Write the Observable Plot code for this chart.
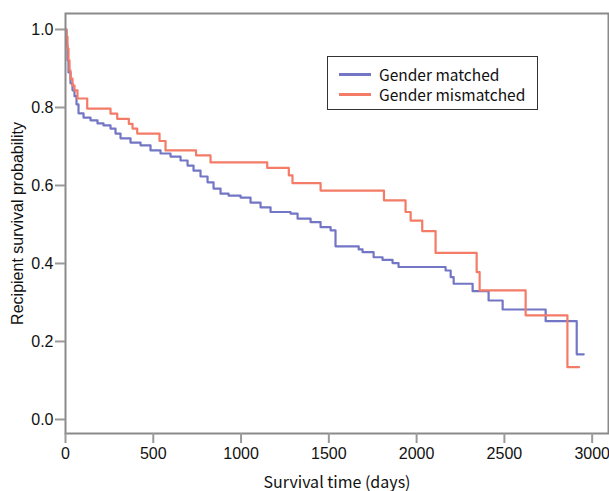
<!DOCTYPE html>
<html>
<head>
<meta charset="utf-8">
<script src="https://cdn.jsdelivr.net/npm/d3@7"></script>
<script src="https://cdn.jsdelivr.net/npm/@observablehq/plot@0.6"></script>
<style>
  html, body { margin: 0; padding: 0; background: #fff; }
  #wrap { position: relative; width: 609px; height: 491px; }
  #wrap svg { font-family: "Liberation Sans", Arial, sans-serif; }
  g[aria-label="x-axis label"] text { font-family: "Noto Sans CJK KR", "Noto Sans", sans-serif; }
  #legend {
    position: absolute; left: 327px; top: 56px; width: 211px; height: 54px;
    border: 1px solid #333; box-sizing: border-box; background: #fff;
    font-family: "Noto Sans CJK KR", "Noto Sans", sans-serif; font-size: 15.5px; color: #111;
  }
  #legend .row { position: absolute; left: 11px; height: 18px; line-height: 18px; display: flex; align-items: center; white-space: nowrap; }
  #legend .sw { width: 32px; height: 0; border-top: 3px solid; margin-right: 8px; }
</style>
</head>
<body>
<div id="wrap"></div>
<script>
// Kaplan-Meier step points
const seriesNames = ["Gender matched", "Gender mismatched"];
const seriesColors = ["#7276c4", "#f47b66"];

const matchedDays = [0, 5.7, 11.4, 17.1, 28.5, 39.9, 51.3, 62.7, 74.1, 102.6, 142.5, 182.3, 216.5, 256.4, 284.9, 313.4, 370.4, 427.4, 484.3, 541.3, 598.3, 655.3, 695.2, 729.3, 769.2, 809.1, 843.3, 883.2, 928.8, 997.2, 1054, 1111, 1168, 1282, 1322, 1396, 1453, 1510, 1538, 1670, 1692, 1755, 1806, 1863, 1897, 2165, 2194, 2211, 2319, 2410, 2490, 2735, 2912, 2952];
const matchedSurv = [1.000, 0.959, 0.921, 0.890, 0.862, 0.844, 0.829, 0.808, 0.785, 0.774, 0.767, 0.759, 0.754, 0.746, 0.733, 0.721, 0.710, 0.703, 0.690, 0.682, 0.674, 0.664, 0.651, 0.638, 0.623, 0.608, 0.592, 0.579, 0.574, 0.569, 0.556, 0.544, 0.532, 0.528, 0.515, 0.506, 0.493, 0.485, 0.444, 0.436, 0.429, 0.416, 0.409, 0.401, 0.391, 0.382, 0.365, 0.348, 0.329, 0.305, 0.282, 0.252, 0.167, 0.167];

const mismatchedDays = [0, 5.7, 11.4, 17.1, 22.8, 28.5, 39.9, 51.3, 68.4, 123.6, 256.4, 294.6, 360.7, 381.8, 408.5, 535.6, 569.8, 743.6, 826.2, 1149, 1272, 1293, 1453, 1814, 1937, 1966, 2032, 2108, 2342, 2359, 2621, 2859, 2925];
const mismatchedSurv = [1.000, 0.982, 0.951, 0.921, 0.895, 0.874, 0.856, 0.844, 0.823, 0.797, 0.784, 0.771, 0.758, 0.746, 0.733, 0.714, 0.690, 0.677, 0.659, 0.645, 0.626, 0.606, 0.587, 0.562, 0.532, 0.510, 0.483, 0.427, 0.378, 0.331, 0.267, 0.134, 0.134];

const xTicks = [0, 500, 1000, 1500, 2000, 2500, 3000];
const yTicks = [0.0, 0.2, 0.4, 0.6, 0.8, 1.0];

const rows = [
  ...matchedDays.map((d, i) => ({group: seriesNames[0], day: d, surv: matchedSurv[i]})),
  ...mismatchedDays.map((d, i) => ({group: seriesNames[1], day: d, surv: mismatchedSurv[i]}))
];

const chart = Plot.plot({
  width: 609,
  height: 491,
  marginLeft: 65,
  marginTop: 13,
  marginRight: 1,
  marginBottom: 58,
  style: {fontSize: "16px", background: "#fff"},
  x: {domain: [0, 3093]},
  y: {domain: [-0.036, 1.041]},
  color: {domain: seriesNames, range: seriesColors},
  marks: [
    Plot.line(rows, {x: "day", y: "surv", z: "group", stroke: "group", curve: "step-after", strokeWidth: 2.2}),
    Plot.frame({stroke: "#8a8a8a", strokeWidth: 2}),
    Plot.axisY({ticks: yTicks, tickFormat: ".1f", tickSize: 10, tickPadding: 2, stroke: "#9a9a9a", strokeWidth: 2, fill: "#111",
      label: "Recipient survival probability", labelAnchor: "center", labelArrow: "none", labelOffset: 54}),
    Plot.axisX({ticks: xTicks, tickFormat: d => String(d), tickSize: 10, tickPadding: 4, stroke: "#9a9a9a", strokeWidth: 2, fill: "#111",
      label: "Survival time (days)", labelAnchor: "center", labelArrow: "none", labelOffset: 54})
  ]
});

const wrap = document.getElementById("wrap");
wrap.appendChild(chart);

const legend = document.createElement("div");
legend.id = "legend";
seriesNames.forEach((name, i) => {
  const row = document.createElement("div");
  row.className = "row";
  row.style.top = (8 + i * 20) + "px";
  const sw = document.createElement("span");
  sw.className = "sw";
  sw.style.borderColor = seriesColors[i];
  const t = document.createElement("span");
  t.textContent = name;
  row.appendChild(sw);
  row.appendChild(t);
  legend.appendChild(row);
});
wrap.appendChild(legend);
</script>
</body>
</html>
